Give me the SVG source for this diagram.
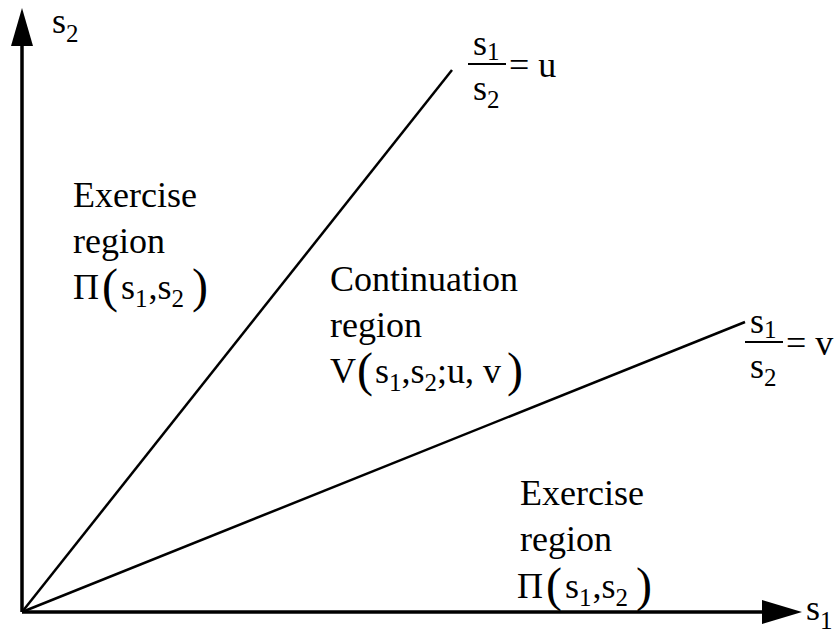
<svg xmlns="http://www.w3.org/2000/svg" width="835" height="635" viewBox="0 0 835 635">
<style>
text{font-family:"Liberation Serif","Times New Roman",serif;font-size:36px;fill:#000}
.sub{font-size:25px}
.par{font-size:48px;font-weight:300}
.ax{stroke:#000;stroke-width:3.5;fill:none}
.ln{stroke:#000;stroke-width:2.5;fill:none}
</style>
<rect width="835" height="635" fill="#fff"/>
<g id="connectors">
<line class="ax" x1="22" y1="612" x2="22" y2="40"/>
<polygon points="22,8 11,46 33,46" fill="#000"/>
<line class="ax" x1="22" y1="612" x2="765" y2="612"/>
<polygon points="802,612 762,600 762,624" fill="#000"/>
<line class="ln" x1="22" y1="612" x2="452" y2="70"/>
<line class="ln" x1="22" y1="612" x2="745" y2="322"/>
</g>
<g id="axis-s2"><text x="52" y="33">s<tspan class="sub" dy="9">2</tspan></text></g>
<g id="axis-s1"><text x="806" y="620">s<tspan class="sub" dy="9">1</tspan></text></g>
<g id="label-u">
<text x="473" y="55">s<tspan class="sub" dy="5">1</tspan></text>
<line x1="468" y1="64" x2="506" y2="64" stroke="#000" stroke-width="2"/>
<text x="473" y="100">s<tspan class="sub" dy="8">2</tspan></text>
<text x="509" y="77">= u</text>
</g>
<g id="label-v">
<text x="750" y="333">s<tspan class="sub" dy="5">1</tspan></text>
<line x1="745" y1="342" x2="783" y2="342" stroke="#000" stroke-width="2"/>
<text x="750" y="378">s<tspan class="sub" dy="8">2</tspan></text>
<text x="786" y="355">= v</text>
</g>
<g id="exercise-upper">
<text x="73" y="207">Exercise</text>
<text x="73" y="253">region</text>
<text x="73" y="299">Π<tspan class="par" dx="3" dy="3">(</tspan><tspan dx="3" dy="-3">s</tspan><tspan class="sub" dy="8">1</tspan><tspan dx="1" dy="-8">,s</tspan><tspan class="sub" dy="8">2</tspan><tspan class="par" dx="8" dy="-5">)</tspan></text>
</g>
<g id="continuation">
<text x="330" y="291">Continuation</text>
<text x="330" y="337">region</text>
<text x="330" y="383">V<tspan class="par" dx="1" dy="3">(</tspan><tspan dx="2" dy="-3">s</tspan><tspan class="sub" dy="8">1</tspan><tspan dy="-8">,s</tspan><tspan class="sub" dy="8">2</tspan><tspan dy="-8">;u, v</tspan><tspan class="par" dx="6" dy="3">)</tspan></text>
</g>
<g id="exercise-lower">
<text x="520" y="505">Exercise</text>
<text x="520" y="551">region</text>
<text x="517" y="598">Π<tspan class="par" dx="3" dy="3">(</tspan><tspan dx="3" dy="-3">s</tspan><tspan class="sub" dy="8">1</tspan><tspan dx="1" dy="-8">,s</tspan><tspan class="sub" dy="8">2</tspan><tspan class="par" dx="8" dy="-5">)</tspan></text>
</g>
</svg>
